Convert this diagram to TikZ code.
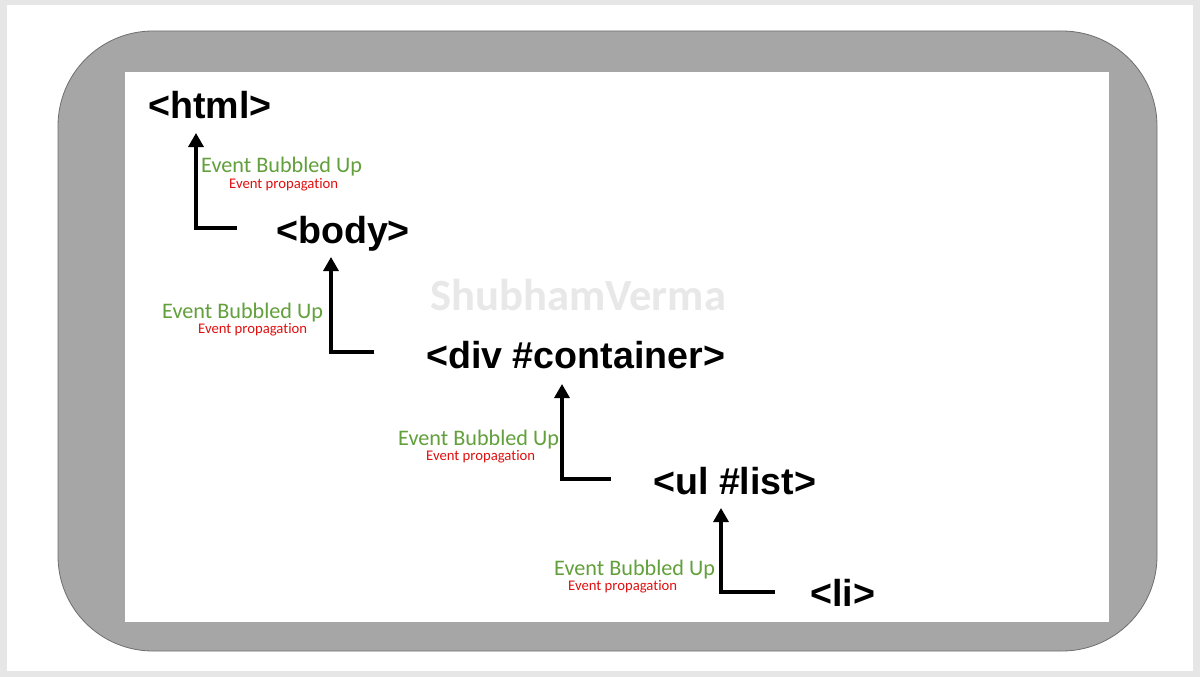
\documentclass[tikz,border=0pt]{standalone}
\usepackage{xcolor}
\definecolor{bubblegreen}{HTML}{62A03C}
\definecolor{propred}{HTML}{E01010}
\definecolor{framegray}{HTML}{A6A6A6}
\definecolor{edgegray}{HTML}{6E6E6E}
\definecolor{pagegray}{HTML}{E6E6E6}
\definecolor{markgray}{HTML}{E8E8E8}
\usepackage{fontspec}
\setmainfont{Liberation Sans}
\newfontfamily\calibri[Ligatures=NoCommon]{Carlito}
\usepackage{tikz}
\usetikzlibrary{arrows.meta}

\tikzset{
    tag/.style={anchor=base west, inner sep=0pt, font=\fontsize{37.6}{40}\selectfont\bfseries},
    bubbled/.style={anchor=base west, inner sep=0pt, text=bubblegreen, font=\calibri\fontsize{22.2}{24}\selectfont},
    propagation/.style={anchor=base west, inner sep=0pt, text=propred, font=\calibri\fontsize{14.7}{16}\selectfont},
    bubble/.style={line width=3.2pt, -{Triangle[width=15pt,length=14pt]}}
}

\begin{document}
\begin{tikzpicture}[x=1pt, y=-1pt]
            \useasboundingbox (0, 0) rectangle (1200, 677);
            \fill[pagegray] (0, 0) rectangle (1200, 677);
            \fill[white] (7, 5) rectangle (1193, 671);

            \draw[edgegray, fill=framegray, line width=0.8pt, rounded corners=95pt] (58, 31) rectangle (1157, 651);
            \fill[white] (125, 72) rectangle (1109, 622);

            \node (mark) at (430, 310) [anchor=base west, inner sep=0pt, text=markgray, font=\calibri\fontsize{44.6}{48}\selectfont\bfseries] {ShubhamVerma};

            \node (html) at (148, 118) [tag] {<html>};
            \node (body) at (276, 243) [tag] {<body>};
            \node (div) at (426, 368) [tag] {<div \#container>};
            \node (ul) at (653, 494) [tag] {<ul \#list>};
            \node (li) at (810, 606) [tag] {<li>};

            \coordinate (h1) at (237, 228);
            \coordinate (t1) at (196, 133);
            \coordinate (h2) at (374, 352);
            \coordinate (t2) at (331, 257);
            \coordinate (h3) at (611, 479);
            \coordinate (t3) at (562, 384);
            \coordinate (h4) at (775, 592);
            \coordinate (t4) at (721, 508);

            \draw[bubble] (h1) -| (t1);
            \draw[bubble] (h2) -| (t2);
            \draw[bubble] (h3) -| (t3);
            \draw[bubble] (h4) -| (t4);

            \node (up1) at (201, 172) [bubbled] {Event Bubbled Up};
            \node (pr1) at (229, 188) [propagation] {Event propagation};
            \node (up2) at (162, 318) [bubbled] {Event Bubbled Up};
            \node (pr2) at (198, 333) [propagation] {Event propagation};
            \node (up3) at (398, 445) [bubbled] {Event Bubbled Up};
            \node (pr3) at (426, 460) [propagation] {Event propagation};
            \node (up4) at (554, 575) [bubbled] {Event Bubbled Up};
            \node (pr4) at (568, 590) [propagation] {Event propagation};
        \end{tikzpicture}
\end{document}
